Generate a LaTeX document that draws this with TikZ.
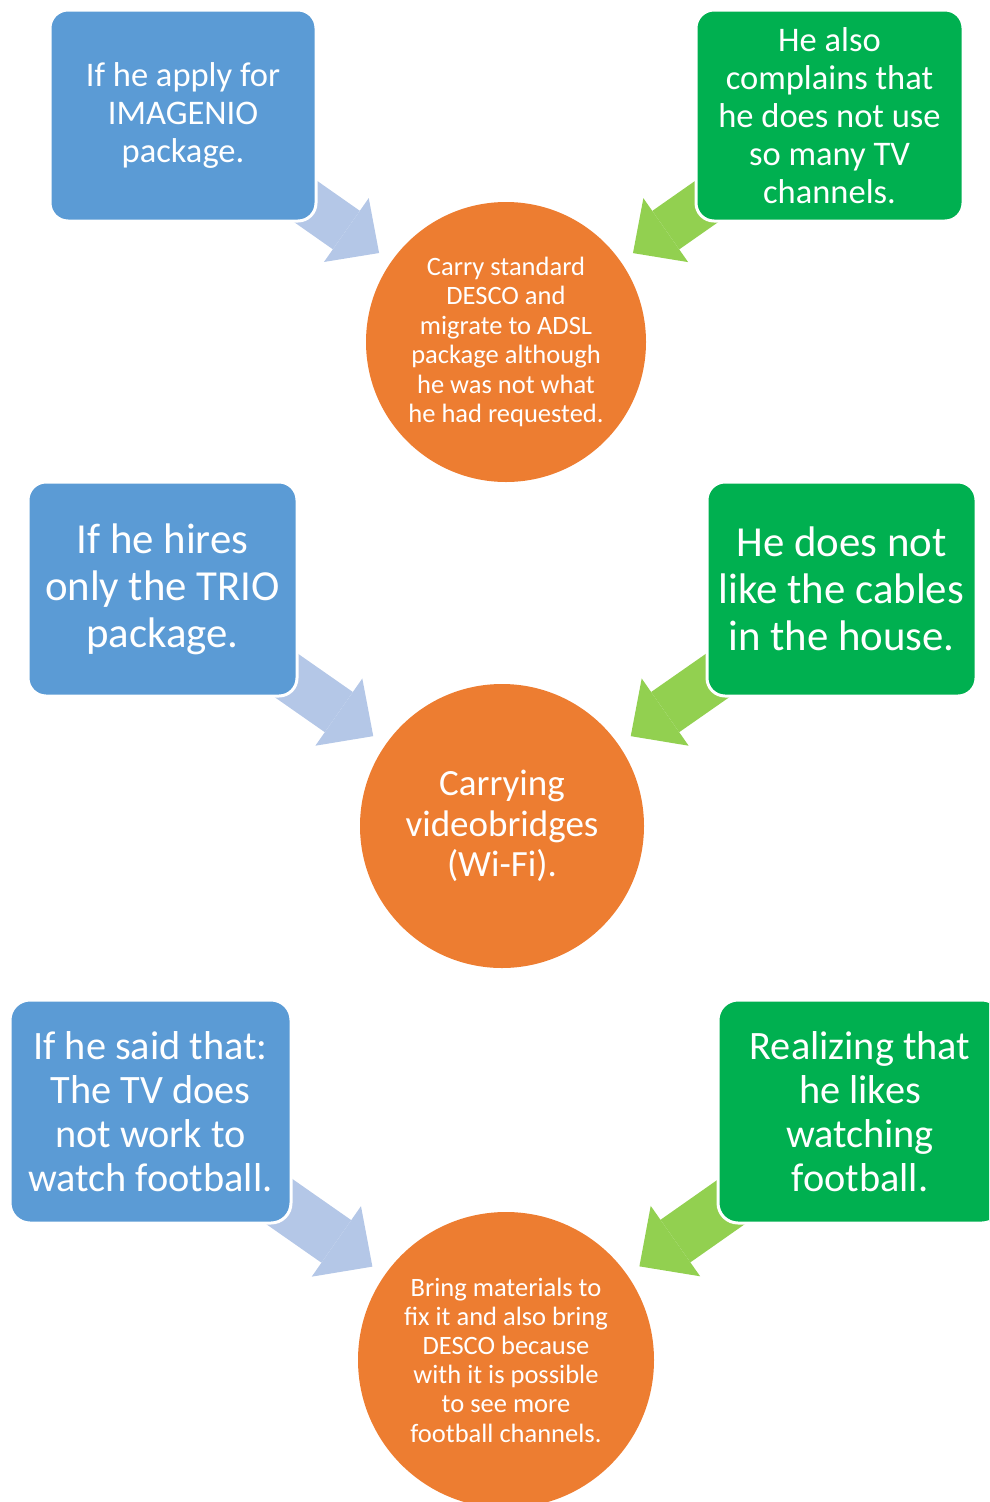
\documentclass[tikz,border=0pt]{standalone}
\usepackage{fontspec}
\setmainfont{Carlito}
\usetikzlibrary{arrows.meta,backgrounds}
\definecolor{boxblue}{HTML}{5B9BD5}
\definecolor{boxgreen}{HTML}{00B050}
\definecolor{ballorange}{HTML}{ED7D31}
\definecolor{arrowblue}{HTML}{B4C7E7}
\definecolor{arrowgreen}{HTML}{92D050}

\begin{document}
\begin{tikzpicture}[x=1pt,y=-1pt]
 \tikzstyle{box}=[rectangle, rounded corners=18pt, draw=white, line width=3pt,
                  text=white, align=center, inner sep=0pt]
 \tikzstyle{bluebox}=[box, fill=boxblue]
 \tikzstyle{greenbox}=[box, fill=boxgreen]
 \tikzstyle{ball}=[circle, fill=ballorange, text=white, align=center, inner sep=0pt]
 \tikzstyle{blueshaft}=[draw=arrowblue]
 \tikzstyle{greenshaft}=[draw=arrowgreen]

\useasboundingbox (0,0) rectangle (989,1502);
\clip (0,0) rectangle (989,1502);

% top row
\node[bluebox, minimum width=266, minimum height=211,
      font=\fontsize{34.5}{38}\selectfont] (b1) at (183,115.5)
  {If he apply for\\IMAGENIO\\package.};
\node[greenbox, minimum width=267, minimum height=211,
      font=\fontsize{34.5}{38}\selectfont] (b2) at (829.5,115.5)
  {He also\\complains that\\he does not use\\so many TV\\channels.};
\node[ball, minimum size=280, font=\fontsize{26.5}{29.4}\selectfont] (c1) at (506,342)
  {Carry standard\\DESCO and\\migrate to ADSL\\package although\\he was not what\\he had requested.};

% middle row
\node[bluebox, minimum width=269, minimum height=214,
      font=\fontsize{42.8}{47}\selectfont] (b3) at (162.5,589)
  {If he hires\\only the TRIO\\package.};
\node[greenbox, minimum width=269, minimum height=214,
      font=\fontsize{42.8}{47}\selectfont] (b4) at (841.5,589)
  {He does not\\like the cables\\in the house.};
\node[ball, minimum size=284, font=\fontsize{37}{40.5}\selectfont] (c2) at (502,826)
  {Carrying\\videobridges\\(Wi-Fi).};

% bottom row
\node[bluebox, minimum width=281, minimum height=223, rounded corners=20pt,
      font=\fontsize{40.3}{44}\selectfont] (b5) at (150.5,1111.5)
  {If he said that:\\The TV does\\not work to\\watch football.};
\node[greenbox, minimum width=284, minimum height=223, rounded corners=20pt,
      font=\fontsize{40.3}{44}\selectfont] (b6) at (860,1111.5)
  {Realizing that\\he likes\\watching\\football.};
\node[ball, minimum size=296, font=\fontsize{26.5}{29.2}\selectfont] (c3) at (506,1360)
  {Bring materials to\\fix it and also bring\\DESCO because\\with it is possible\\to see more\\football channels.};

% block arrows, behind the boxes
\begin{scope}[on background layer]
 \path[line width=47pt, shorten >=155pt,
       -{Triangle[length=40pt, width=78pt, line width=0pt]}]
    (b1.center) edge[blueshaft] (c1.center)
    (b2.center) edge[greenshaft] (c1.center);
 \path[line width=49pt, shorten >=157pt,
       -{Triangle[length=42pt, width=82pt, line width=0pt]}]
    (b3.center) edge[blueshaft] (c2.center)
    (b4.center) edge[greenshaft] (c2.center);
 \path[line width=52pt, shorten >=163pt,
       -{Triangle[length=44pt, width=86pt, line width=0pt]}]
    (b5.center) edge[blueshaft] (c3.center)
    (b6.center) edge[greenshaft] (c3.center);
\end{scope}

\end{tikzpicture}
\end{document}
